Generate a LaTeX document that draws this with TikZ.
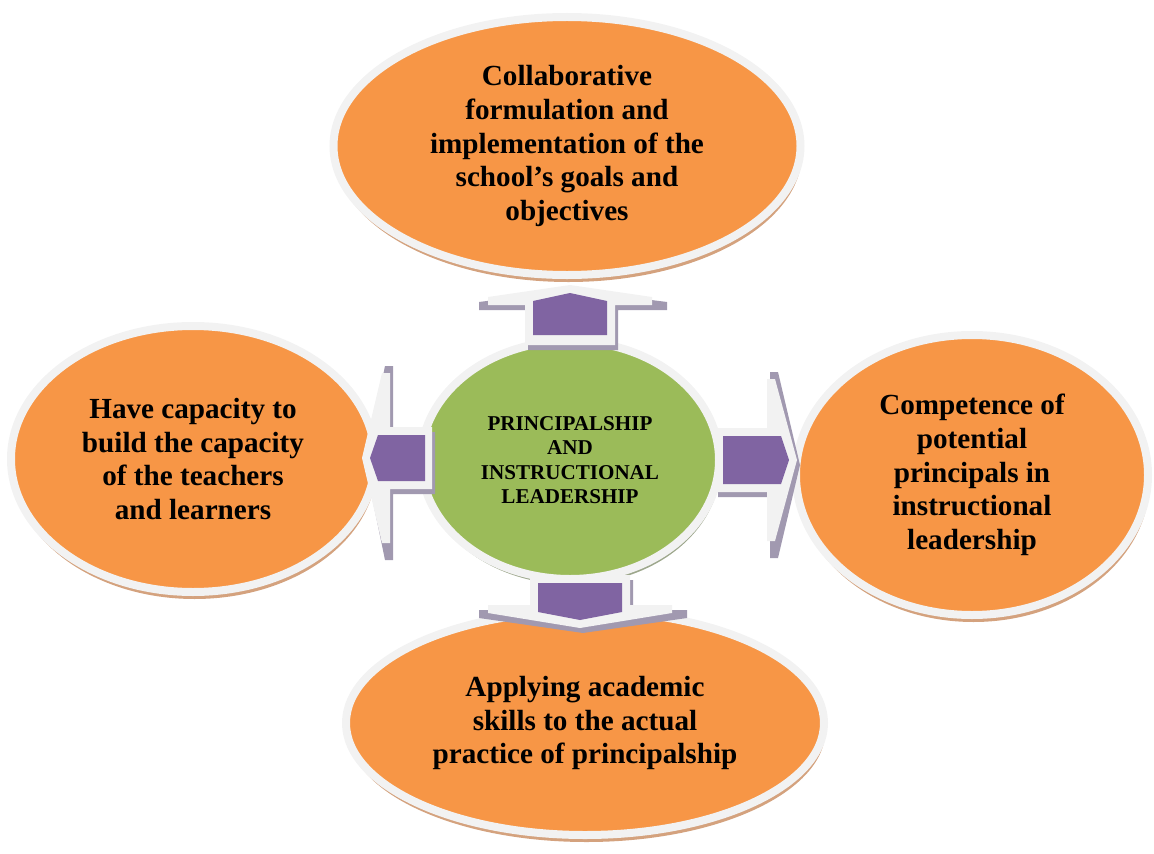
\documentclass[tikz,border=0pt]{standalone}
\usepackage{fontspec}
\setmainfont{Liberation Serif}
\usetikzlibrary{calc, shadows, shapes.geometric}
\definecolor{GoalOrange}{HTML}{F79646}
\definecolor{HubGreen}{HTML}{9BBB59}
\definecolor{ArrowPurple}{HTML}{8064A2}
\definecolor{Glow}{HTML}{F2F2F2}
\definecolor{GoalShade}{HTML}{D4A27E}
\definecolor{HubShade}{HTML}{9DA78C}
\definecolor{ArrowShade}{HTML}{A199B0}

\begin{document}
\begin{tikzpicture}[
    x=0.2mm, y=-0.2mm,
    goal/.style={ellipse, draw=Glow, line width=1.6mm, fill=GoalOrange, inner sep=0pt,
        align=center, font=\fontsize{16.6}{19.2}\selectfont\bfseries,
        drop shadow={shadow xshift=0.3mm, shadow yshift=-1.4mm, fill=GoalShade, opacity=1}},
    hub/.style={ellipse, draw=Glow, line width=1.6mm, fill=HubGreen, inner sep=0pt,
        align=center, font=\fontsize{12}{13.8}\selectfont\bfseries,
        drop shadow={shadow xshift=0.3mm, shadow yshift=-1.1mm, fill=HubShade, opacity=1}},
]
\useasboundingbox (0,0) rectangle (1154,854);

% doelen rondom
\node[goal, minimum width=93.4mm, minimum height=51.6mm] (goals) at (567,146)
    {Collaborative\\formulation and\\implementation of the\\school’s goals and\\objectives};
\node[goal, minimum width=72.8mm, minimum height=53.2mm] (capacity) at (193,459)
    {Have capacity to\\build the capacity\\of the teachers\\and learners};
\node[goal, minimum width=70.4mm, minimum height=56mm] (competence) at (972,475)
    {Competence of\\potential\\principals in\\instructional\\leadership};
\node[goal, minimum width=95.6mm, minimum height=44.8mm] (practice) at (585,723)
    {Applying academic\\skills to the actual\\practice of principalship};

% kern
\node[hub, minimum width=59.6mm, minimum height=47.6mm] (hub) at (570,460)
    {PRINCIPALSHIP\\AND\\INSTRUCTIONAL\\LEADERSHIP};

% pijlen van de kern naar de doelen
\foreach \rot/\dx/\dy/\s/\h/\hl/\len/\pl in {
    90/0/-175/45/82/12/60/50, 0/227/0/32/81/22/82/74,
    -90/10/168/50/92/15/53/45, 180/-208/-2/31/85/20/70/63}{
  \fill[ArrowShade, shift={($(hub.center)+(\dx+3,\dy+5)$)}, rotate=\rot]
    (0,0) -- (-\hl,\h+12) -- (-\hl-8,\h+12) -- (-\hl-8,\s) -- (-\len,\s)
    -- (-\len,-\s) -- (-\hl-8,-\s) -- (-\hl-8,-\h-12) -- (-\hl,-\h-12) -- cycle;
  \fill[Glow, shift={($(hub.center)+(\dx,\dy)$)}, rotate=\rot]
    (0,0) -- (-\hl,\h) -- (-\hl-8,\h) -- (-\hl-8,\s) -- (-\len,\s)
    -- (-\len,-\s) -- (-\hl-8,-\s) -- (-\hl-8,-\h) -- (-\hl,-\h) -- cycle;
  \fill[ArrowPurple, shift={($(hub.center)+(\dx,\dy)$)}, rotate=\rot]
    (-8,0) -- (-16,\s-8) -- (-\pl,\s-8) -- (-\pl,-\s+8) -- (-16,-\s+8) -- cycle;
}
\end{tikzpicture}
\end{document}
